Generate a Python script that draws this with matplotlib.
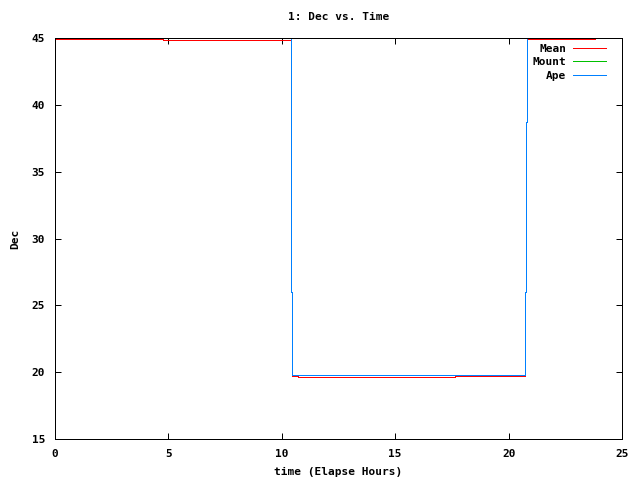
import matplotlib
matplotlib.use("Agg")
import matplotlib.pyplot as plt

# step breakpoints (elapsed hours) and values held until next breakpoint
mean_t = [0.0, 4.76, 10.39, 10.42, 10.46, 10.70, 17.64, 20.73, 20.77, 20.81, 23.81]
mean_v = [44.93, 44.86, 38.7, 26.0, 19.72, 19.64, 19.70, 26.0, 38.7, 44.93, 44.93]

mount_t = [0.0, 10.39, 10.42, 10.46, 20.73, 20.77, 20.81, 23.81]
mount_v = [45.0, 38.7, 26.0, 19.78, 26.0, 38.7, 45.0, 45.0]

ape_t = [0.0, 10.39, 10.42, 10.46, 20.73, 20.77, 20.81, 23.81]
ape_v = [45.0, 38.7, 26.0, 19.78, 26.0, 38.7, 45.0, 45.0]

x_ticks = [0, 5, 10, 15, 20, 25]
y_ticks = [15, 20, 25, 30, 35, 40, 45]

plt.rcParams['font.family'] = ['DejaVu Sans Mono']
plt.rcParams['font.weight'] = 'bold'
plt.rcParams['font.size'] = 8
plt.rcParams['lines.antialiased'] = False

LW = 0.72  # one pixel at 100 dpi

fig = plt.figure(figsize=(6.4, 4.8), dpi=100)
ax = fig.add_axes([0.0859, 0.0854, 0.972 - 0.0859, 0.9204 - 0.0854])

ax.step(mean_t, mean_v, where='post', color='#ff0000', lw=LW, label='Mean')
ax.step(mount_t, mount_v, where='post', color='#00c000', lw=LW, label='Mount')
ax.step(ape_t, ape_v, where='post', color='#0080ff', lw=LW, label='Ape')

ax.set_xlim(0, 25)
ax.set_ylim(15, 45)
ax.set_xticks(x_ticks)
ax.set_yticks(y_ticks)
ax.tick_params(direction='in', length=4.5, width=LW, top=True, right=True, pad=7, labelsize=8)
for s in ax.spines.values():
	s.set_linewidth(LW)
	s.set_zorder(5)
	s.set_antialiased(False)

ax.set_title('1: Dec vs. Time', fontsize=8, fontweight='bold', pad=13)
ax.set_xlabel('time (Elapse Hours)', fontsize=8, fontweight='bold', labelpad=6)
ax.set_ylabel('Dec', fontsize=8, fontweight='bold', labelpad=8)

leg = ax.legend(loc='upper right', bbox_to_anchor=(0.9795, 0.9968), frameon=False,
				markerfirst=False, handlelength=3.0, handletextpad=0.6,
				labelspacing=0.3, borderaxespad=0.0, fontsize=8)

fig.savefig('out.png', dpi=100)
